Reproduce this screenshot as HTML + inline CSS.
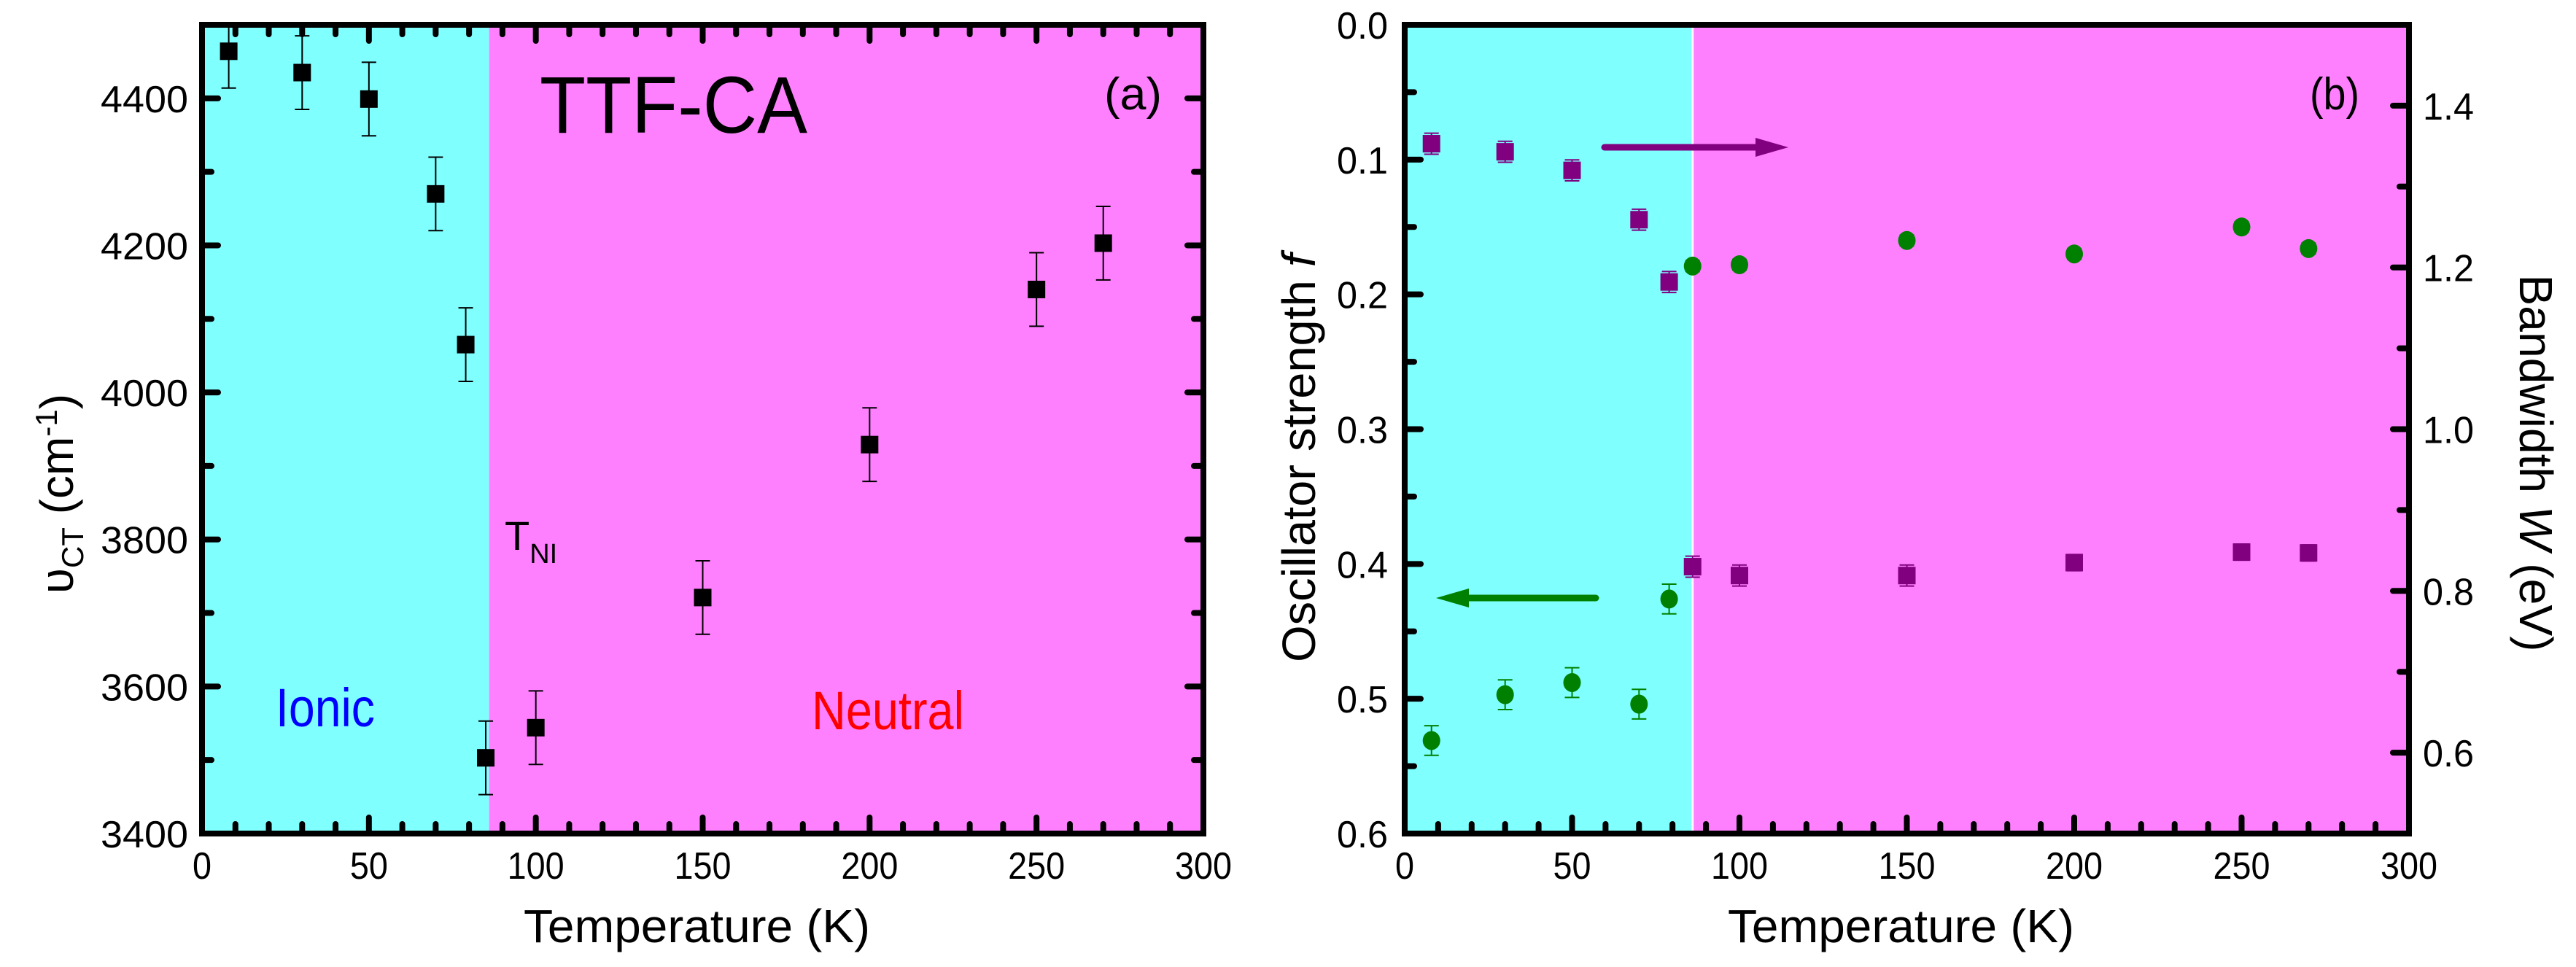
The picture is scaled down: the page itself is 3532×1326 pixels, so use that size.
<!DOCTYPE html>
<html><head><meta charset="utf-8">
<style>
html,body{margin:0;padding:0;background:#fff;}
svg{display:block;}
text{font-family:"Liberation Sans Narrow","Liberation Sans",sans-serif;fill:#000;}
</style></head>
<body>
<svg id="chart" width="3532" height="1326" viewBox="0 0 3532 1326" xmlns="http://www.w3.org/2000/svg">
</svg>
<script>
// ---- Panel (a) data ----
const tempA = [8, 30, 50, 70, 79, 85, 100, 150, 200, 250, 270];
const nuCT = [4464, 4435, 4399, 4270, 4065, 3503, 3544, 3721, 3929, 4140, 4203];
const nuErr = [50, 50, 50, 50, 50, 50, 50, 50, 50, 50, 50];
const xTicks = [0, 50, 100, 150, 200, 250, 300];
const yTicksA = [3400, 3600, 3800, 4000, 4200, 4400];
// ---- Panel (b) data ----
const tempB = [8, 30, 50, 70, 79, 86, 100, 150, 200, 250, 270];
const oscF = [0.531, 0.497, 0.488, 0.504, 0.426, 0.179, 0.178, 0.160, 0.170, 0.150, 0.166];
const oscErr = [0.011, 0.011, 0.011, 0.011, 0.011, 0.004, 0.004, 0.004, 0.004, 0.004, 0.004];
const bandW = [1.353, 1.343, 1.320, 1.259, 1.182, 0.830, 0.819, 0.819, 0.835, 0.848, 0.847];
const bandErr = [0.013, 0.013, 0.013, 0.013, 0.013, 0.013, 0.013, 0.013, 0.01, 0.01, 0.01];
const yTicksBL = [0.0, 0.1, 0.2, 0.3, 0.4, 0.5, 0.6];
const yTicksBR = [0.6, 0.8, 1.0, 1.2, 1.4];
const transitionT = 86;

const NS = "http://www.w3.org/2000/svg";
const svg = document.getElementById('chart');
function mk(tag, attrs, parent) {
  const e = document.createElementNS(NS, tag);
  for (const k in attrs) e.setAttribute(k, attrs[k]);
  (parent || svg).appendChild(e);
  return e;
}
function lin(d0, d1, r0, r1) { return v => r0 + (v - d0) * (r1 - r0) / (d1 - d0); }

const TOP = 34, BOT = 1143;
// panel a scales
const ax = lin(0, 300, 277, 1650);
const ay = lin(3400, 4500, BOT, TOP);
// panel b scales
const bx = lin(0, 300, 1926, 3303);
const byL = lin(0, 0.6, TOP, BOT);
const byR = lin(0.5, 1.5, BOT, TOP);

function panelBg(x, L, R, name) {
  const g = mk('g', {});
  
  
  const r1 = mk('rect', {x: L, y: TOP, width: x(transitionT) - L, height: BOT - TOP, fill: '#80FFFF'}, g);
  
  
  const r2 = mk('rect', {x: x(transitionT), y: TOP, width: R - x(transitionT), height: BOT - TOP, fill: '#FF80FF'}, g);
  
  
  return g;
}
panelBg(ax, 277, 1650, 'panel-a');
panelBg(bx, 1926, 3303, 'panel-b');
const wl = mk('line', {x1: bx(transitionT), x2: bx(transitionT), y1: TOP, y2: BOT, stroke: '#fff', 'stroke-width': 3});



function tick(x1, y1, x2, y2, g) {
  mk('line', {x1, y1, x2, y2, stroke: '#000', 'stroke-width': 8, 'stroke-linecap': 'round'}, g);
}
function xAxis(x, L, R, topTicks, name) {
  const g = mk('g', {});
  
  
  for (let t = 0; t <= 300; t += 10) {
    const major = t % 50 === 0;
    const len = major ? 22 : 13;
    tick(x(t), BOT, x(t), BOT - len, g);
    if (topTicks) tick(x(t), TOP, x(t), TOP + len, g);
  }
  xTicks.forEach(v => {
    const s = String(v);
    const tx = mk('text', {x: x(v), y: 1205, 'font-size': 52, 'text-anchor': 'middle', textLength: s.length * 26, lengthAdjust: 'spacingAndGlyphs'}, g);
    tx.textContent = s;
    
    
  });
  const title = mk('text', {x: (L + R) / 2 - 8, y: 1292, 'font-size': 64, 'text-anchor': 'middle', textLength: 475, lengthAdjust: 'spacingAndGlyphs'}, g);
  title.textContent = 'Temperature (K)';
  
  
}
xAxis(ax, 277, 1650, true, 'panel-a');
xAxis(bx, 1926, 3303, false, 'panel-b');

// panel a y axis ticks (left and right)
(function () {
  const g = mk('g', {});
  
  
  for (let v = 3400; v <= 4500; v += 100) {
    const major = v % 200 === 0;
    const len = major ? 22 : 13;
    tick(277, ay(v), 277 + len, ay(v), g);
    tick(1650, ay(v), 1650 - len, ay(v), g);
  }
  yTicksA.forEach(v => {
    const tx = mk('text', {x: 258, y: ay(v) + 19, 'font-size': 52, 'text-anchor': 'end', textLength: 120, lengthAdjust: 'spacingAndGlyphs'}, g);
    tx.textContent = String(v);
    
    
  });
  const t = mk('text', {transform: 'translate(100,677) rotate(-90)', 'font-size': 64, 'text-anchor': 'middle'}, g);
  
  
  t.innerHTML = 'υ<tspan font-size="42" dy="14">CT</tspan><tspan dy="-14"> (cm</tspan><tspan font-size="42" dy="-22">-1</tspan><tspan dy="22">)</tspan>';
})();

// panel b y axes
(function () {
  const g = mk('g', {});
  
  
  for (let i = 0; i <= 12; i++) {
    const v = i * 0.05;
    const len = i % 2 === 0 ? 22 : 13;
    tick(1926, byL(v), 1926 + len, byL(v), g);
  }
  yTicksBL.forEach(v => {
    const tx = mk('text', {x: 1903, y: byL(v) + 19, 'font-size': 52, 'text-anchor': 'end', textLength: 70, lengthAdjust: 'spacingAndGlyphs'}, g);
    tx.textContent = v.toFixed(1);
    
    
  });
  const t = mk('text', {transform: 'translate(1803,628) rotate(-90)', 'font-size': 64, 'text-anchor': 'middle', textLength: 560, lengthAdjust: 'spacingAndGlyphs'}, g);
  
  
  t.innerHTML = 'Oscillator strength <tspan font-style="italic">f</tspan>';

  const g2 = mk('g', {});
  
  
  for (let i = 5; i <= 15; i++) {
    const v = i / 10;
    const len = i % 2 === 0 ? 22 : 13;
    tick(3303, byR(v), 3303 - len, byR(v), g2);
  }
  yTicksBR.forEach(v => {
    const tx = mk('text', {x: 3322, y: byR(v) + 19, 'font-size': 52, 'text-anchor': 'start', textLength: 70, lengthAdjust: 'spacingAndGlyphs'}, g2);
    tx.textContent = v.toFixed(1);
    
    
  });
  const t2 = mk('text', {transform: 'translate(3455,635) rotate(90)', 'font-size': 64, 'text-anchor': 'middle', textLength: 517, lengthAdjust: 'spacingAndGlyphs'}, g2);
  
  
  t2.innerHTML = 'Bandwidth <tspan font-style="italic">W</tspan> (eV)';
})();

// frames
const f1 = mk('rect', {x: 277, y: TOP, width: 1373, height: BOT - TOP, fill: 'none', stroke: '#000', 'stroke-width': 8});


const f2 = mk('rect', {x: 1926, y: TOP, width: 1377, height: BOT - TOP, fill: 'none', stroke: '#000', 'stroke-width': 8});



function errBar(cx, y1, y2, color, g) {
  mk('line', {x1: cx, x2: cx, y1, y2, stroke: color, 'stroke-width': 2}, g);
  mk('line', {x1: cx - 10, x2: cx + 10, y1, y2: y1, stroke: color, 'stroke-width': 2}, g);
  mk('line', {x1: cx - 10, x2: cx + 10, y1: y2, y2, stroke: color, 'stroke-width': 2}, g);
}
// panel a series
(function () {
  const g = mk('g', {});
  
  
  tempA.forEach((t, i) => {
    const cx = ax(t), cy = ay(nuCT[i]);
    errBar(cx, Math.max(ay(nuCT[i] + nuErr[i]), TOP), ay(nuCT[i] - nuErr[i]), '#000', g);
    const r = mk('rect', {x: cx - 12, y: cy - 12, width: 24, height: 24, fill: '#000'}, g);
    
    
  });
})();
// panel b series
(function () {
  const g = mk('g', {});
  
  
  tempB.forEach((t, i) => {
    const cx = bx(t), cy = byR(bandW[i]);
    errBar(cx, byR(bandW[i] + bandErr[i]), byR(bandW[i] - bandErr[i]), '#800080', g);
    const r = mk('rect', {x: cx - 12, y: cy - 12, width: 24, height: 24, fill: '#800080'}, g);
    
    
  });
  const g2 = mk('g', {});
  
  
  tempB.forEach((t, i) => {
    const cx = bx(t), cy = byL(oscF[i]);
    errBar(cx, byL(oscF[i] - oscErr[i]), byL(oscF[i] + oscErr[i]), '#008000', g2);
    const c = mk('ellipse', {cx, cy, rx: 12, ry: 13, fill: '#008000'}, g2);
    
    
  });
})();

// arrows
(function () {
  const a1 = mk('g', {});
  
  
  mk('line', {x1: 2200, y1: 202, x2: 2410, y2: 202, stroke: '#800080', 'stroke-width': 9, 'stroke-linecap': 'round'}, a1);
  mk('polygon', {points: '2407,189 2452,202 2407,215', fill: '#800080'}, a1);
  const a2 = mk('g', {});
  
  
  mk('line', {x1: 2012, y1: 820, x2: 2188, y2: 820, stroke: '#008000', 'stroke-width': 9, 'stroke-linecap': 'round'}, a2);
  mk('polygon', {points: '2014,807 1969,820 2014,833', fill: '#008000'}, a2);
})();

// annotations
function label(txt, attrs, name) {
  const t = mk('text', attrs);
  t.innerHTML = txt;
  
  
  return t;
}
label('TTF-CA', {x: 740, y: 182, 'font-size': 110, textLength: 367, lengthAdjust: 'spacingAndGlyphs'}, 'compound-title');
label('(a)', {x: 1514, y: 150, 'font-size': 62, textLength: 79, lengthAdjust: 'spacingAndGlyphs'}, 'panel-a-label');
label('(b)', {x: 3167, y: 150, 'font-size': 62, textLength: 68, lengthAdjust: 'spacingAndGlyphs'}, 'panel-b-label');
label('T<tspan font-size="38" dy="18">NI</tspan>', {x: 692, y: 754, 'font-size': 56}, 'transition-temperature-label');
label('Ionic', {x: 378, y: 996, 'font-size': 74, fill: '#0000FF', style: 'fill:#0000FF', textLength: 136, lengthAdjust: 'spacingAndGlyphs'}, 'ionic-label');
label('Neutral', {x: 1113, y: 1000, 'font-size': 74, style: 'fill:#FF0000', textLength: 209, lengthAdjust: 'spacingAndGlyphs'}, 'neutral-label');
</script>
</body></html>
